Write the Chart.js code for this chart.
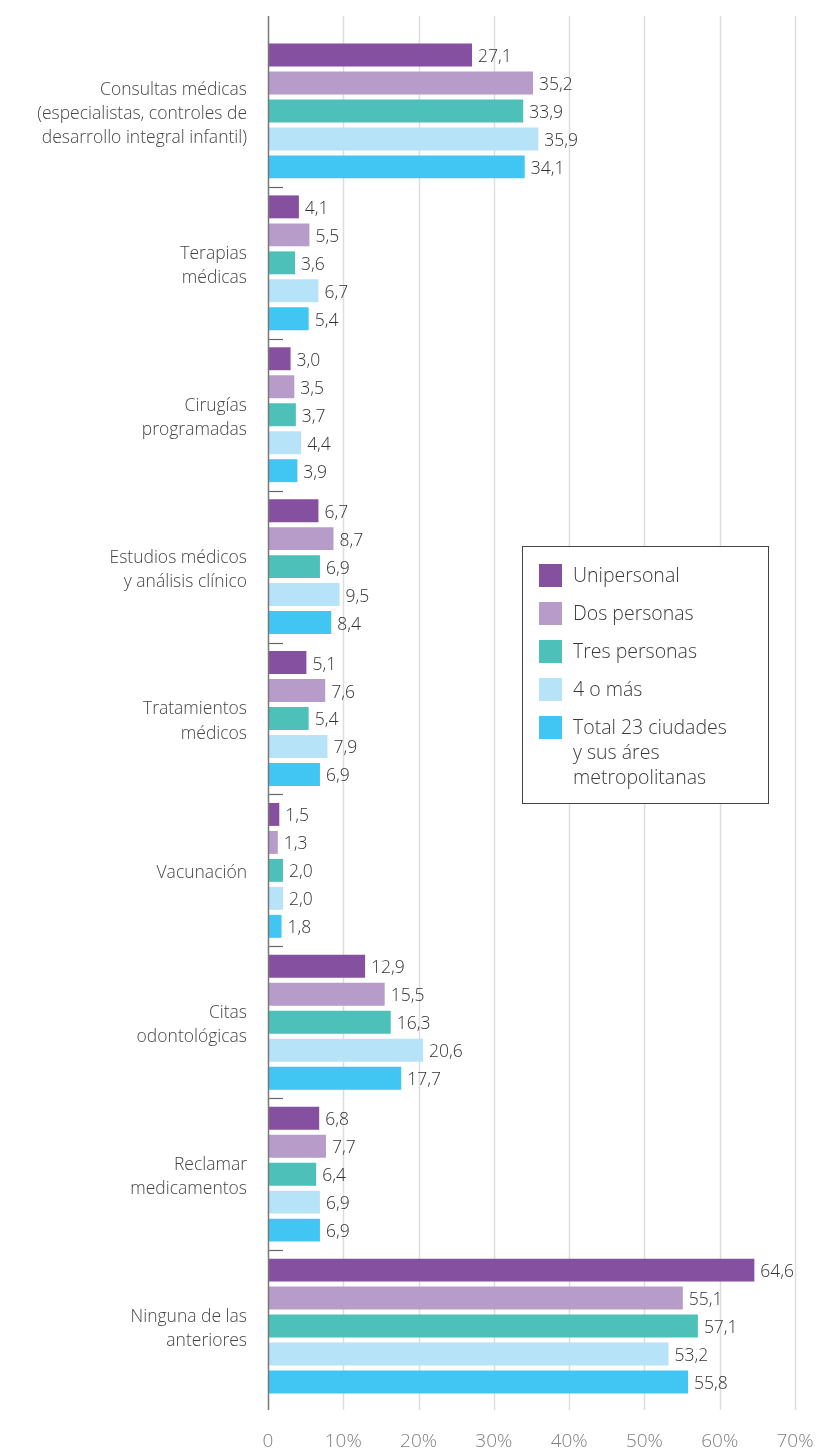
<!DOCTYPE html>
<html>
<head>
<meta charset="utf-8">
<script src="https://cdn.jsdelivr.net/npm/chart.js@4.4.0/dist/chart.umd.min.js"></script>
<style>
    html, body { margin: 0; padding: 0; background: #fff; }
    #wrap { width: 818px; height: 1454px; }
</style>
</head>
<body>
<div id="wrap"><canvas id="chart" width="818" height="1454"></canvas></div>
<script>
// Categories (multi-line labels)
var categories = [
    ['Consultas médicas', '(especialistas, controles de', 'desarrollo integral infantil)'],
    ['Terapias', 'médicas'],
    ['Cirugías', 'programadas'],
    ['Estudios médicos', 'y análisis clínico'],
    ['Tratamientos', 'médicos'],
    'Vacunación',
    ['Citas', 'odontológicas'],
    ['Reclamar', 'medicamentos'],
    ['Ninguna de las', 'anteriores']
];

// Series values (%)
var unipersonal  = [27.1, 4.1, 3.0, 6.7, 5.1, 1.5, 12.9, 6.8, 64.6];
var dosPersonas  = [35.2, 5.5, 3.5, 8.7, 7.6, 1.3, 15.5, 7.7, 55.1];
var tresPersonas = [33.9, 3.6, 3.7, 6.9, 5.4, 2.0, 16.3, 6.4, 57.1];
var cuatroOMas   = [35.9, 6.7, 4.4, 9.5, 7.9, 2.0, 20.6, 6.9, 53.2];
var total23      = [34.1, 5.4, 3.9, 8.4, 6.9, 1.8, 17.7, 6.9, 55.8];

var seriesNames = [
    ['Unipersonal'],
    ['Dos personas'],
    ['Tres personas'],
    ['4 o más'],
    ['Total 23 ciudades', 'y sus áres', 'metropolitanas']
];
var seriesColors = ['#84509f', '#b79bc8', '#4dc1b9', '#b6e3f8', '#41c6f3'];

// X axis ticks
var xTicks = [0, 10, 20, 30, 40, 50, 60, 70];

var FONT = '"Open Sans", Lato, sans-serif';

function noPadding(s) {
    s.paddingTop = 0;
    s.paddingBottom = 0;
    s.paddingLeft = 0;
    s.paddingRight = 0;
}

// Gridlines, axis line and category separators
var gridPlugin = {
    id: 'gridPlugin',
    beforeDatasetsDraw: function (chart) {
        var ctx = chart.ctx, area = chart.chartArea;
        var xs = chart.scales.x, ys = chart.scales.y;
        var top = area.top - 19, bottom = area.bottom + 8;
        ctx.save();
        ctx.lineWidth = 1.5;
        ctx.strokeStyle = '#dddddd';
        xTicks.forEach(function (t) {
            if (t === 0) return;
            var x = Math.round(xs.getPixelForValue(t)) + 0.5;
            ctx.beginPath();
            ctx.moveTo(x, top);
            ctx.lineTo(x, bottom);
            ctx.stroke();
        });
        // category separators
        ctx.strokeStyle = '#666666';
        ctx.lineWidth = 1.2;
        for (var i = 0; i < categories.length - 1; i++) {
            var y = Math.round((ys.getPixelForValue(i) + ys.getPixelForValue(i + 1)) / 2) + 0.5;
            ctx.beginPath();
            ctx.moveTo(area.left, y);
            ctx.lineTo(area.left + 15, y);
            ctx.stroke();
        }
        ctx.restore();
    },
    afterDatasetsDraw: function (chart) {
        var ctx = chart.ctx, area = chart.chartArea;
        var x0 = Math.round(chart.scales.x.getPixelForValue(0)) + 0.5;
        ctx.save();
        ctx.strokeStyle = '#777777';
        ctx.lineWidth = 1.5;
        ctx.beginPath();
        ctx.moveTo(x0, area.top - 19);
        ctx.lineTo(x0, area.bottom + 8);
        ctx.stroke();
        ctx.restore();
    }
};

// Value labels at the end of each bar
var valueLabels = {
    id: 'valueLabels',
    afterDatasetsDraw: function (chart) {
        var ctx = chart.ctx;
        ctx.save();
        ctx.font = '300 17.5px ' + FONT;
        ctx.fillStyle = '#333333';
        ctx.textAlign = 'left';
        ctx.textBaseline = 'middle';
        chart.data.datasets.forEach(function (ds, i) {
            chart.getDatasetMeta(i).data.forEach(function (bar, j) {
                ctx.fillText(ds.data[j].toFixed(1).replace('.', ','), bar.x + 6, bar.y + 2);
            });
        });
        ctx.restore();
    }
};

// Boxed legend
var boxLegend = {
    id: 'boxLegend',
    afterDraw: function (chart) {
        var ctx = chart.ctx;
        var bx = 522, by = 546, bw = 246, bh = 257;
        ctx.save();
        ctx.fillStyle = '#ffffff';
        ctx.fillRect(bx, by, bw, bh);
        ctx.strokeStyle = '#444444';
        ctx.lineWidth = 1;
        ctx.strokeRect(bx + 0.5, by + 0.5, bw, bh);
        ctx.font = '300 19.5px ' + FONT;
        ctx.textAlign = 'left';
        ctx.textBaseline = 'middle';
        chart.data.datasets.forEach(function (ds, i) {
            var cy = by + 29 + i * 38;
            ctx.fillStyle = ds.backgroundColor;
            ctx.fillRect(bx + 17, cy - 11, 23, 23);
            ctx.fillStyle = '#3a3a3a';
            seriesNames[i].forEach(function (line, k) {
                ctx.fillText(line, bx + 51, cy + 1 + k * 25);
            });
        });
        ctx.restore();
    }
};

var seriesData = [unipersonal, dosPersonas, tresPersonas, cuatroOMas, total23];

var ctx = document.getElementById('chart').getContext('2d');
var chart = new Chart(ctx, {
    type: 'bar',
    data: {
        labels: categories,
        datasets: seriesData.map(function (d, i) {
            return {
                label: seriesNames[i].join(' '),
                data: d,
                backgroundColor: seriesColors[i],
                borderWidth: 0,
                categoryPercentage: 0.921,
                barPercentage: 0.82
            };
        })
    },
    options: {
        indexAxis: 'y',
        responsive: false,
        animation: false,
        devicePixelRatio: 1,
        layout: { padding: { top: 35, right: 23, left: 0, bottom: 0 } },
        plugins: {
            legend: { display: false },
            tooltip: { enabled: false }
        },
        scales: {
            x: {
                type: 'linear',
                position: 'bottom',
                min: 0,
                max: 70,
                afterBuildTicks: function (s) {
                    s.ticks = xTicks.map(function (v) { return { value: v }; });
                },
                ticks: {
                    color: '#808080',
                    font: { family: FONT, size: 19, weight: '300' },
                    padding: 28,
                    maxRotation: 0,
                    callback: function (v) { return v === 0 ? '0' : v + '%'; }
                },
                grid: { display: false, drawTicks: false },
                border: { display: false },
                afterFit: function (s) { s.height = 52; noPadding(s); }
            },
            y: {
                type: 'category',
                ticks: {
                    color: '#454545',
                    font: { family: FONT, size: 17.5, lineHeight: 1.38, weight: '300' },
                    padding: 21,
                    labelOffset: 3,
                    autoSkip: false
                },
                grid: { display: false, drawTicks: false },
                border: { display: false },
                afterFit: function (s) { s.width = 268; noPadding(s); }
            }
        }
    },
    plugins: [gridPlugin, valueLabels, boxLegend]
});
</script>
</body>
</html>
